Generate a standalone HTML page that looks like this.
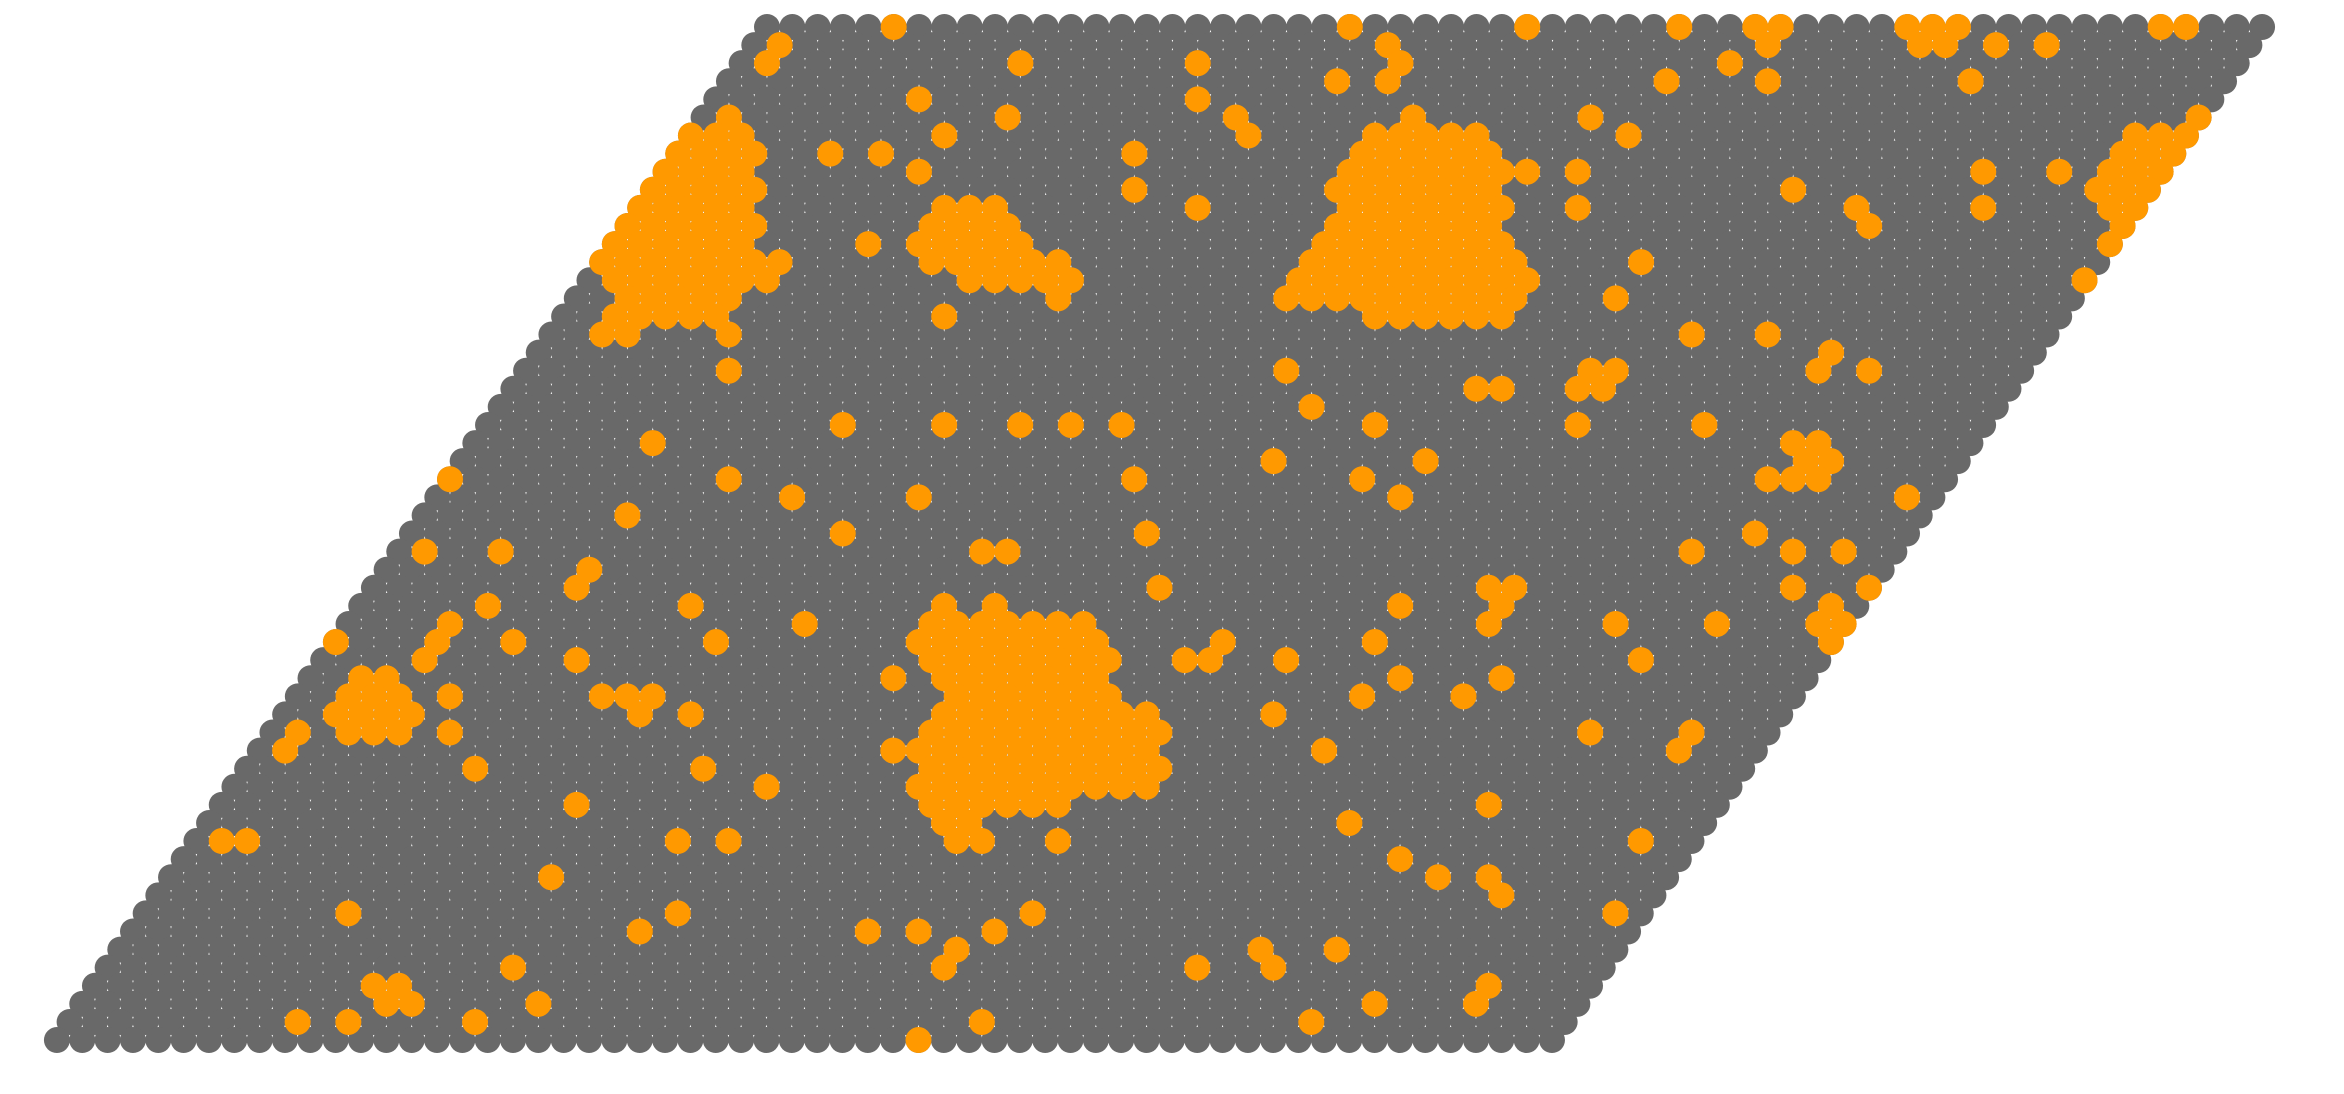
<!DOCTYPE html>
<html><head><meta charset="utf-8"><style>
html,body{margin:0;padding:0;background:#fff;}
svg{display:block;}
</style></head><body>
<svg id="chart" width="2344" height="1094" viewBox="0 0 2344 1094" xmlns="http://www.w3.org/2000/svg">
<g id="base"></g>
<g id="hot"></g>
</svg>
<script>
const gridRows = 57;
const gridCols = 60;
const hotRowIds = [0,1,2,3,4,5,6,7,8,9,10,11,12,13,14,15,16,17,18,19,20,21,22,23,24,25,26,27,28,29,30,31,32,33,34,35,36,37,38,39,40,41,42,43,44,45,46,47,48,49,50,51,52,53,54,55,56];
const hotRowCols = [
[5,23,30,36,39,40,45,46,47,55,56],
[1,25,40,46,47,49,51],
[1,11,18,26,39],
[24,26,37,41,49],
[8,19],
[1,12,21,28,35,59],
[0,1,2,10,22,27,28,29,30,31,37,57,58,59],
[0,1,2,3,6,8,18,27,28,29,30,31,32,57,58,59],
[0,1,2,3,10,27,28,29,30,31,32,33,34,36,52,55,57,58,59],
[0,1,2,3,4,19,27,28,29,30,31,32,33,45,57,58,59],
[0,1,2,3,4,12,13,14,22,28,29,30,31,32,33,34,37,48,53,58,59],
[0,1,2,3,4,5,12,13,14,15,28,29,30,31,32,33,34,49,59],
[0,1,2,3,4,5,10,12,13,14,15,16,28,29,30,31,32,33,34,35,59],
[0,1,2,3,4,5,6,7,13,14,15,16,17,18,28,29,30,31,32,33,34,35,36,41],
[1,2,3,4,5,6,7,15,16,17,18,19,28,29,30,31,32,33,34,35,36,37,59],
[2,3,4,5,6,19,28,29,30,31,32,33,34,35,36,37,41],
[2,3,4,5,6,15,32,33,34,35,36,37],
[2,3,7,45,48],
[51],
[8,30,42,43,51,53],
[38,39,42,43],
[32],
[14,18,21,23,25,35,43,48],
[7,52,53],
[32,38,53,54],
[0,11,27,36,52,53,54],
[14,19,38,58],
[8],
[17,29,53],
[1,4,23,24,51,55,57],
[8],
[8,31,44,45,56,59],
[5,13,23,25,41,45,58],
[4,18,23,24,25,26,27,28,29,45,50,54,58,59],
[0,4,7,15,23,24,25,26,27,28,29,30,35,41,59],
[4,10,24,25,26,27,28,29,30,31,34,35,38,52],
[2,3,23,25,26,27,28,29,30,31,43,47],
[2,3,4,6,12,13,14,26,27,28,29,30,31,32,42,46],
[2,3,4,5,14,16,26,27,28,29,30,31,32,33,34,39],
[1,3,4,5,7,26,27,28,29,30,31,32,33,34,35,52,56],
[1,25,26,27,28,29,30,31,32,33,34,35,42,56],
[9,18,27,28,29,30,31,32,33,34,35,36],
[21,27,28,29,30,31,32,33,34,35,36],
[14,28,29,30,31,32,33,50],
[29,30,45],
[1,2,19,21,30,31,34,57],
[48],
[15,50,52],
[53],
[8,21,35,58],
[20,29,31,34],
[33,45,48],
[16,33,43,46],
[11,12,55],
[12,13,18,51,55],
[9,11,16,36,49],
[34]
];

const NS = "http://www.w3.org/2000/svg";
const topY = 27, rowStep = 18.09, topX = 767, rowShift = 12.68, colStep = 25.34, R = 13;
function cx(t, c){ return topX - rowShift * t + colStep * c; }
function cy(t){ return topY + rowStep * t; }

const base = document.getElementById('base');
for (let t = 0; t < gridRows; t++) {
  for (let c = 0; c < gridCols; c++) {
    const el = document.createElementNS(NS, 'circle');
    el.setAttribute('cx', cx(t, c).toFixed(2));
    el.setAttribute('cy', cy(t).toFixed(2));
    el.setAttribute('r', R);
    el.setAttribute('fill', '#696969');
    
    
    base.appendChild(el);
  }
}
const hot = document.getElementById('hot');
hotRowIds.forEach(function(t, i){
  hotRowCols[i].forEach(function(c){
    const el = document.createElementNS(NS, 'circle');
    el.setAttribute('cx', cx(t, c).toFixed(2));
    el.setAttribute('cy', cy(t).toFixed(2));
    el.setAttribute('r', R);
    el.setAttribute('fill', '#ff9900');
    
    
    hot.appendChild(el);
  });
});
</script>
</body></html>
